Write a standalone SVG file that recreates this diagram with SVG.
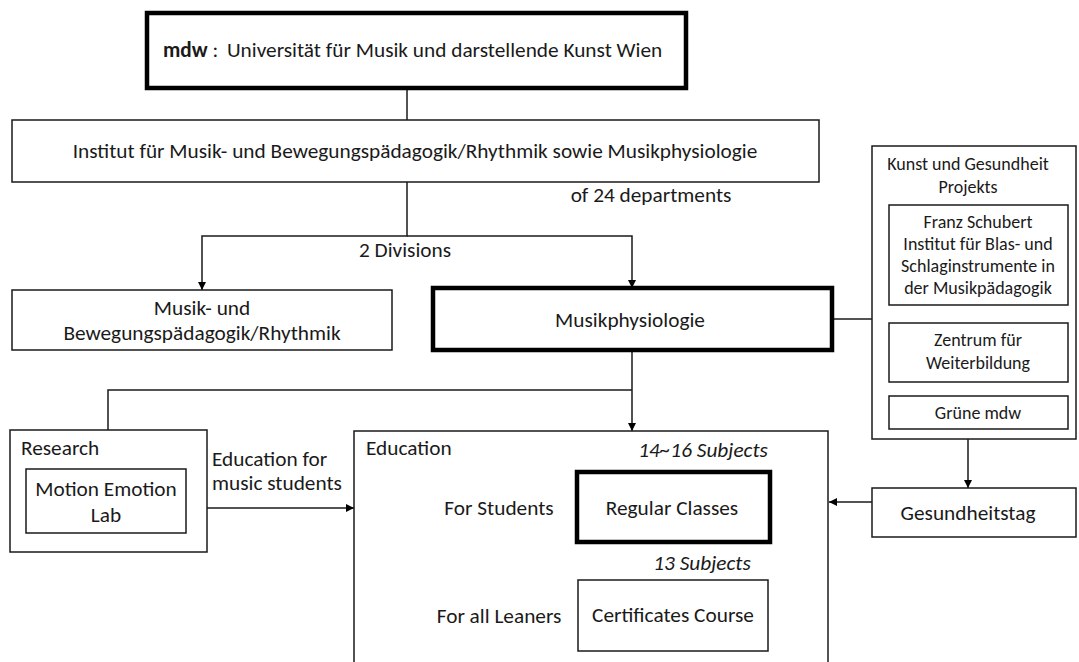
<svg xmlns="http://www.w3.org/2000/svg" width="1079" height="662" viewBox="0 0 1079 662">
<defs>
<style>
.box{fill:#fff;stroke:#1a1a1a;stroke-width:1.5}
.thick{fill:#fff;stroke:#000;stroke-width:4.5}
.ln{fill:none;stroke:#1a1a1a;stroke-width:1.5}
text{font-family:Carlito,Calibri,"Liberation Sans",Arial,sans-serif;font-size:21.3px;fill:#1a1a1a}
.c{text-anchor:middle}
.s{font-size:18px}
.i{font-style:italic}
</style>
<marker id="ah" viewBox="0 0 10 10" refX="10" refY="5" markerWidth="8" markerHeight="8" markerUnits="userSpaceOnUse" orient="auto">
<path d="M0,0 L10,5 L0,10 z" fill="#000"/>
</marker>
</defs>
<rect width="1079" height="662" fill="#fff"/>
<g id="connectors">
<path class="ln" d="M407,88 V120"/>
<path class="ln" d="M407,182 V236 H202 V290" marker-end="url(#ah)"/>
<path class="ln" d="M407,236 H632 V288" marker-end="url(#ah)"/>
<path class="ln" d="M832,319 H872"/>
<path class="ln" d="M632,350 V431" marker-end="url(#ah)"/>
<path class="ln" d="M632,390 H108 V430"/>
<path class="ln" d="M207,508 H354" marker-end="url(#ah)"/>
<path class="ln" d="M968,439 V488" marker-end="url(#ah)"/>
<path class="ln" d="M872,502 H829" marker-end="url(#ah)"/>
</g>
<g id="mdw">
<rect class="thick" x="147" y="13" width="539" height="75"/>
<text x="163" y="57"><tspan font-weight="bold">mdw</tspan> :  <tspan dx="4">Universität für Musik und darstellende Kunst Wien</tspan></text>
</g>
<g id="institut">
<rect class="box" x="12" y="120" width="807" height="62"/>
<text class="c" x="415" y="158">Institut für Musik- und Bewegungspädagogik/Rhythmik sowie Musikphysiologie</text>
</g>
<g id="label-departments"><text class="c" x="651" y="202">of 24 departments</text></g>
<g id="label-divisions"><text class="c" x="405" y="257">2 Divisions</text></g>
<g id="musik-bewegung">
<rect class="box" x="12" y="290" width="380" height="60"/>
<text class="c" x="202" y="315">Musik- und</text>
<text class="c" x="202" y="340">Bewegungspädagogik/Rhythmik</text>
</g>
<g id="musikphysiologie">
<rect class="thick" x="433" y="288" width="399" height="62"/>
<text class="c" x="630" y="327">Musikphysiologie</text>
</g>
<g id="kunst-gesundheit">
<rect class="box" x="872" y="146" width="204" height="293"/>
<text class="c s" x="968" y="170">Kunst und Gesundheit</text>
<text class="c s" x="968" y="193">Projekts</text>
</g>
<g id="franz-schubert">
<rect class="box" x="889" y="205" width="179" height="100"/>
<text class="c s" x="978" y="228">Franz Schubert</text>
<text class="c s" x="978" y="250">Institut für Blas- und</text>
<text class="c s" x="978" y="272">Schlaginstrumente in</text>
<text class="c s" x="978" y="294">der Musikpädagogik</text>
</g>
<g id="zentrum">
<rect class="box" x="889" y="323" width="179" height="59"/>
<text class="c s" x="978" y="346">Zentrum für</text>
<text class="c s" x="978" y="369">Weiterbildung</text>
</g>
<g id="gruene-mdw">
<rect class="box" x="889" y="396" width="179" height="33"/>
<text class="c s" x="978" y="419">Grüne mdw</text>
</g>
<g id="gesundheitstag">
<rect class="box" x="872" y="488" width="204" height="49"/>
<text class="c" x="968" y="520">Gesundheitstag</text>
</g>
<g id="research">
<rect class="box" x="10" y="430" width="197" height="122"/>
<text x="21" y="455">Research</text>
</g>
<g id="motion-emotion-lab">
<rect class="box" x="26" y="469" width="160" height="64"/>
<text class="c" x="106" y="496">Motion Emotion</text>
<text class="c" x="106" y="522">Lab</text>
</g>
<g id="label-education-for"><text x="212" y="466">Education for</text><text x="212" y="490">music students</text></g>
<g id="education">
<rect class="box" x="354" y="431" width="474" height="250"/>
<text x="366" y="455">Education</text>
<text class="c" x="499" y="515">For Students</text>
<text class="c" x="499" y="623">For all Leaners</text>
<text class="c i" x="703" y="457">14~16 Subjects</text>
<text class="c i" x="702" y="570">13 Subjects</text>
</g>
<g id="regular-classes">
<rect class="thick" x="577" y="472" width="193" height="70"/>
<text class="c" x="672" y="515">Regular Classes</text>
</g>
<g id="certificates-course">
<rect class="box" x="578" y="580" width="190" height="71"/>
<text class="c" x="673" y="622">Certificates Course</text>
</g>
</svg>
